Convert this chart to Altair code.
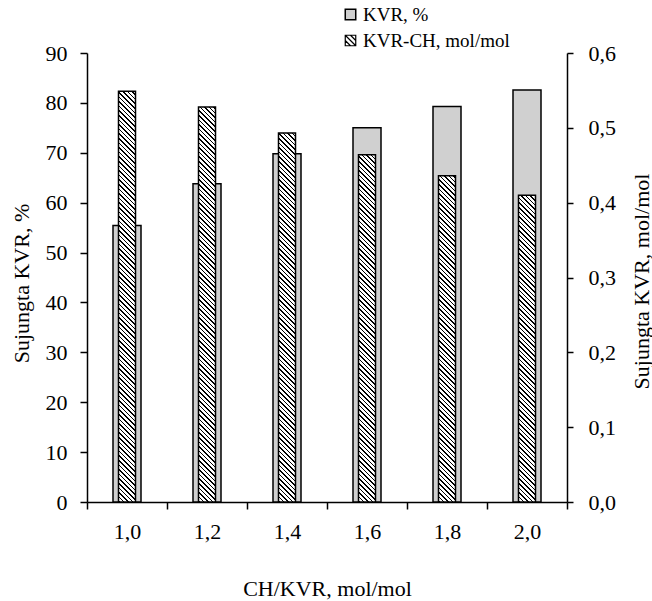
import altair as alt

# ---- data ----
categories = ["1,0", "1,2", "1,4", "1,6", "1,8", "2,0"]
kvr_percent = [55.4, 63.8, 69.8, 75.0, 79.3, 82.6]
kvr_ch_molmol = [0.549, 0.528, 0.493, 0.464, 0.436, 0.410]
left_ticks = [0, 10, 20, 30, 40, 50, 60, 70, 80, 90]
right_ticks = [0.0, 0.1, 0.2, 0.3, 0.4, 0.5, 0.6]
series_names = ["KVR, %", "KVR-CH, mol/mol"]

# ---- layout / style ----
W, H = 480, 449
BAR_W, HATCH_W = 28, 17
FONT = "Liberation Serif"
FS = 22
LFS = 19
GREY = "#d0d0d0"
RIGHT_MAX = 0.6
HATCH_PATH = "M-1,-1H1V1H-1Z M-1,-1L1,1 M0,-1L1,0 M-1,0L0,1"


def hatch_fill(value):
    """Diagonal (\\) hatching built as a hard-stop linear gradient in the bar's box."""
    h = value / RIGHT_MAX * H
    w = HATCH_W
    r = h / w
    a = (1 + r) / (1 + r * r)
    total = w + h
    period, dark = 4.6, 1.6
    stops = []
    s = 0.0
    while s < total:
        t0 = round(s / total, 6)
        t1 = round(min(s + dark, total) / total, 6)
        t2 = round(min(s + period, total) / total, 6)
        stops += [
            {"offset": t0, "color": "#000000"},
            {"offset": t1, "color": "#000000"},
            {"offset": t1, "color": "#ffffff"},
            {"offset": t2, "color": "#ffffff"},
        ]
        s += period
    return {"gradient": "linear", "x1": 0, "y1": 1, "x2": a, "y2": 1 - a * r,
            "stops": stops}


rows = [
    {"cat": c, "kvr": p, "ch": m, "hatch": hatch_fill(m),
     "s1": series_names[0], "s2": series_names[1]}
    for c, p, m in zip(categories, kvr_percent, kvr_ch_molmol)
]
data = alt.InlineData(values=rows)

x_enc = alt.X(
    "cat:N", sort=categories,
    scale=alt.Scale(paddingInner=0, paddingOuter=0),
    axis=alt.Axis(title="CH/KVR, mol/mol", tickBand="extent", labelAngle=0,
                  tickSize=7, labelPadding=12,
                  titleX=W / 2, titleY=86, titleAlign="center",
                  titleBaseline="middle"),
)

legend_common = dict(title=None, orient="none", legendX=254, symbolSize=110,
                     labelFont=FONT, labelFontSize=LFS, labelColor="black",
                     labelOffset=3, padding=0, labelLimit=0)

grey = alt.Chart(data).mark_bar(width=BAR_W, stroke="black", strokeWidth=1.5).encode(
    x=x_enc,
    y=alt.Y("kvr:Q", stack=None,
            scale=alt.Scale(domain=[0, 90], nice=False, zero=True),
            axis=alt.Axis(orient="left", values=left_ticks, title="Sujungta KVR, %",
                          tickSize=7, labelPadding=13, titleAngle=270,
                          titleX=-66, titleY=230, titleAlign="center",
                          titleBaseline="middle")),
    color=alt.Color("s1:N",
                    scale=alt.Scale(domain=[series_names[0]], range=[GREY]),
                    legend=alt.Legend(legendY=-48, symbolType="square",
                                      symbolStrokeColor="black",
                                      symbolStrokeWidth=1.5, **legend_common)),
)

hatched = alt.Chart(data).mark_bar(width=HATCH_W, strokeWidth=1.5).encode(
    x=x_enc,
    y=alt.Y("ch:Q", stack=None,
            scale=alt.Scale(domain=[0, RIGHT_MAX], nice=False, zero=True),
            axis=alt.Axis(orient="right", values=right_ticks,
                          labelExpr="replace(format(datum.value, '.1f'), '.', ',')",
                          title="Sujungta KVR, mol/mol", tickSize=6, labelPadding=15,
                          titleAngle=270, titleX=74, titleY=228,
                          titleAlign="center", titleBaseline="middle")),
    fill=alt.Fill("hatch:N", scale=None),
    stroke=alt.Stroke("s2:N",
                      scale=alt.Scale(domain=[series_names[1]], range=["black"]),
                      legend=alt.Legend(legendY=-22, symbolType=HATCH_PATH,
                                        symbolFillColor="white",
                                        symbolStrokeWidth=1.2, **legend_common)),
)

chart = alt.layer(grey, hatched).resolve_scale(
    y="independent", color="independent", stroke="independent"
).properties(
    width=W, height=H,
    background="white",
    autosize=alt.AutoSizeParams(type="none"),
    padding={"left": 87, "top": 53, "right": 85, "bottom": 99},
).configure_view(stroke=None).configure_axis(
    grid=False, domainColor="black", domainWidth=1.5, tickColor="black",
    tickWidth=1.5, labelColor="black", titleColor="black", labelFont=FONT,
    titleFont=FONT, labelFontSize=FS, titleFontSize=FS, titleFontWeight="normal",
    labelFontWeight="normal",
)

chart.save("out.html", embed_options={"renderer": "svg", "actions": False})
